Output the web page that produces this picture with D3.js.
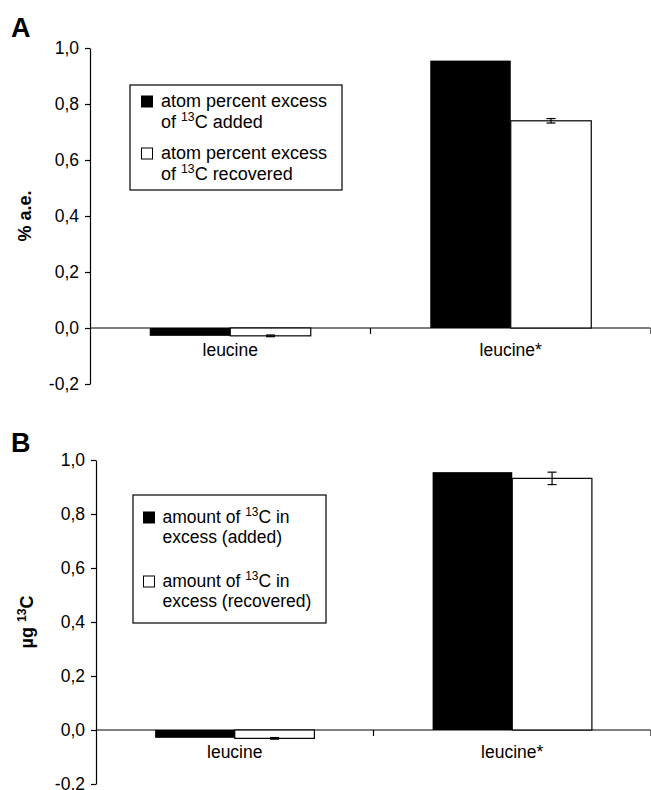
<!DOCTYPE html>
<html>
<head>
<meta charset="utf-8">
<script src="https://cdn.jsdelivr.net/npm/d3@7"></script>
<style>
body { margin: 0; background: #fff; }
text { font-family: "Liberation Sans", Arial, sans-serif; fill: #000; }
</style>
</head>
<body>
<script>
var width = 651
var height = 790

var categories = ['leucine', 'leucine*']
var yTicks = [-0.2, 0, 0.2, 0.4, 0.6, 0.8, 1.0]

// panel A: atom percent excess
var addedA = [-0.028, 0.955]
var recoveredA = [-0.028, 0.74]
var errA = [0.003, 0.008]

// panel B: amount of 13C
var addedB = [-0.029, 0.955]
var recoveredB = [-0.031, 0.932]
var errB = [0.003, 0.023]

var legendA = [['atom percent excess', 'of ^13C added'], ['atom percent excess', 'of ^13C recovered']]
var legendB = [['amount of ^13C in', 'excess (added)'], ['amount of ^13C in', 'excess (recovered)']]

var svg = d3.select('body').append('svg')
    .attr('width', width)
    .attr('height', height)

// writes "of ^13C added" with the 13 as superscript
function richText (sel, str, size) {
	str.split(/\^(\d+)/).forEach(function (part, i) {
		if (!part) return
		if (i % 2 === 1) {
			sel.append('tspan').attr('font-size', size * 0.68).attr('dy', -size * 0.38).text(part)
		} else {
			var t = sel.append('tspan').text(part)
			if (i > 0) t.attr('dy', size * 0.38)
		}
	})
}

function panel (p) {
	var g = svg.append('g')

	var y = d3.scaleLinear()
	    .domain([-0.2, 1.0])
	    .range([p.bottom, p.top])

	var x = d3.scaleBand()
	    .domain(categories)
	    .range([p.left, width])
	    .paddingInner(0.426)
	    .paddingOuter(0.213)

	var xs = d3.scaleBand()
	    .domain(['added', 'recovered'])
	    .range([0, x.bandwidth()])

	var fmt = function (d) { return d3.format('.1f')(d).replace('.', ',').replace('\u2212', '-') }

	var yAxis = g.append('g')
	    .attr('transform', 'translate(' + p.left + ',0)')
	    .call(d3.axisLeft(y).tickValues(yTicks).tickSize(5).tickSizeOuter(0).tickPadding(6).tickFormat(fmt))
	yAxis.selectAll('text').attr('font-size', 17.5).style('font-family', '"Liberation Sans", Arial, sans-serif')
	yAxis.selectAll('line, path').attr('stroke', '#000').attr('stroke-width', 1.2)

	// zero line with category ticks
	g.append('line')
	    .attr('x1', p.left).attr('x2', width - 0.5)
	    .attr('y1', y(0)).attr('y2', y(0))
	    .attr('stroke', '#000').attr('stroke-width', 1.2)

	g.selectAll('.ctick')
	    .data(categories)
	  .enter().append('line')
	    .attr('x1', function (d) { return x(d) - x.step() * x.paddingOuter() + x.step() })
	    .attr('x2', function (d) { return x(d) - x.step() * x.paddingOuter() + x.step() })
	    .attr('y1', y(0)).attr('y2', y(0) + 6)
	    .attr('stroke', '#000').attr('stroke-width', 1.2)

	g.selectAll('.clabel')
	    .data(categories)
	  .enter().append('text')
	    .attr('x', function (d) { return x(d) + x.bandwidth() / 2 })
	    .attr('y', y(0) + 28)
	    .attr('text-anchor', 'middle')
	    .attr('font-size', 17.5)
	    .text(function (d) { return d })

	var rows = categories.map(function (c, i) {
		return {cat: c, added: p.added[i], recovered: p.recovered[i], err: p.err[i]}
	})

	g.selectAll('.added')
	    .data(rows)
	  .enter().append('rect')
	    .attr('x', function (d) { return x(d.cat) + xs('added') })
	    .attr('y', function (d) { return y(Math.max(0, d.added)) })
	    .attr('width', xs.bandwidth())
	    .attr('height', function (d) { return Math.abs(y(d.added) - y(0)) })
	    .attr('fill', '#000')

	g.selectAll('.recovered')
	    .data(rows)
	  .enter().append('rect')
	    .attr('x', function (d) { return x(d.cat) + xs('recovered') })
	    .attr('y', function (d) { return y(Math.max(0, d.recovered)) })
	    .attr('width', xs.bandwidth())
	    .attr('height', function (d) { return Math.abs(y(d.recovered) - y(0)) })
	    .attr('fill', '#fff')
	    .attr('stroke', '#000')
	    .attr('stroke-width', 1.2)

	var eb = g.selectAll('.err')
	    .data(rows)
	  .enter().append('g')
	    .attr('transform', function (d) { return 'translate(' + (x(d.cat) + xs('recovered') + xs.bandwidth() / 2) + ',0)' })
	    .attr('stroke', '#000').attr('stroke-width', 1.2)
	eb.append('line')
	    .attr('y1', function (d) { return y(d.recovered - d.err) })
	    .attr('y2', function (d) { return y(d.recovered + d.err) })
	eb.append('line').attr('x1', -4.5).attr('x2', 4.5)
	    .attr('y1', function (d) { return y(d.recovered + d.err) })
	    .attr('y2', function (d) { return y(d.recovered + d.err) })
	eb.append('line').attr('x1', -4.5).attr('x2', 4.5)
	    .attr('y1', function (d) { return y(d.recovered - d.err) })
	    .attr('y2', function (d) { return y(d.recovered - d.err) })

	// y title
	var yt = g.append('text')
	    .attr('transform', 'translate(' + p.titleX + ',' + (p.top + p.bottom) / 2 + ') rotate(-90)')
	    .attr('text-anchor', 'middle')
	    .attr('font-size', 18)
	    .attr('font-weight', 'bold')
	richText(yt, p.ytitle, 18)

	// panel letter
	g.append('text')
	    .attr('x', 11).attr('y', p.letterY)
	    .attr('font-size', 27).attr('font-weight', 'bold')
	    .text(p.letter)

	// legend
	var L = p.legend
	g.append('rect')
	    .attr('x', L.x).attr('y', L.y).attr('width', L.w).attr('height', L.h)
	    .attr('fill', '#fff').attr('stroke', '#000').attr('stroke-width', 1.2)
	p.legendLines.forEach(function (lines, i) {
		var base = L.first + i * L.entryGap
		g.append('rect')
		    .attr('x', L.sx).attr('y', base - 11).attr('width', 11).attr('height', 11)
		    .attr('fill', i === 0 ? '#000' : '#fff')
		    .attr('stroke', '#000').attr('stroke-width', 1)
		lines.forEach(function (line, j) {
			var t = g.append('text')
			    .attr('x', L.tx).attr('y', base + j * L.lineGap)
			    .attr('font-size', L.size)
			richText(t, line, L.size)
		})
	})
}

panel({
	top: 48, bottom: 384, left: 90,
	added: addedA, recovered: recoveredA, err: errA,
	ytitle: '% a.e.', titleX: 31,
	letter: 'A', letterY: 37,
	legendLines: legendA,
	legend: {x: 130, y: 85, w: 212, h: 105, first: 107, lineGap: 20.5, entryGap: 52, sx: 141.5, tx: 161, size: 18}
})

panel({
	top: 460, bottom: 784, left: 96,
	added: addedB, recovered: recoveredB, err: errB,
	ytitle: 'µg ^13C', titleX: 33,
	letter: 'B', letterY: 452,
	legendLines: legendB,
	legend: {x: 133, y: 495, w: 193, h: 128, first: 523, lineGap: 20, entryGap: 64, sx: 143.5, tx: 162.5, size: 17.5}
})
</script>
</body>
</html>
